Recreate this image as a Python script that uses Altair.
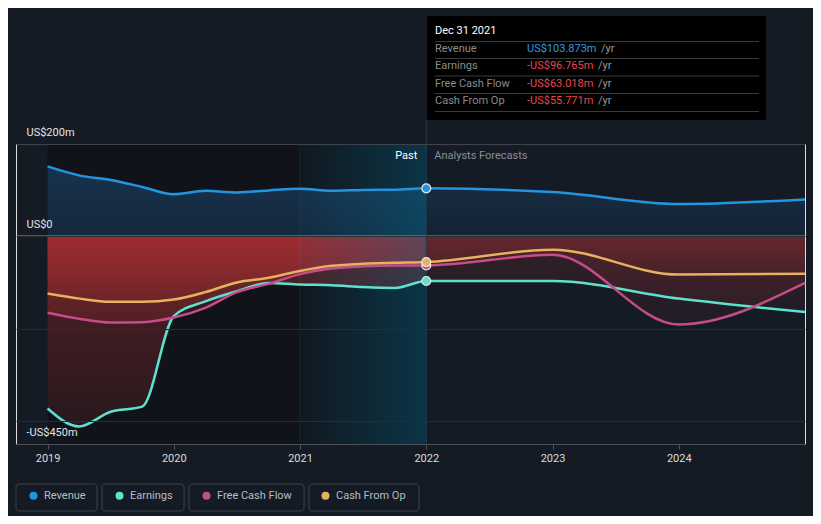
import altair as alt
import pandas as pd

# ---------------- data (US$ m, decimal years) ----------------
past_t = [2019.0, 2019.25, 2019.5, 2019.75, 2020.0, 2020.25, 2020.5, 2020.75,
          2021.0, 2021.25, 2021.5, 2021.75, 2022.0]
fore_t = [2022.0, 2023.0, 2024.0, 2025.0]

revenue_past = [151.5, 132, 122, 107, 91, 98.5, 95, 99.5, 103, 98.5, 100.5, 101, 103.873]
revenue_fore = [103.873, 96, 70, 80]
earnings_past = [-373, -412, -380, -369, -173, -141, -119, -101, -104.5, -106, -110, -112, -96.765]
earnings_fore = [-96.765, -97, -135, -164]
fcf_past = [-165.5, -178.5, -187, -186, -176, -155, -121, -103, -82, -70, -65, -63, -63.018]
fcf_fore = [-63.018, -40, -191, -101]
cfo_past = [-124, -135, -142, -142, -137, -121, -100, -90, -75, -64, -59.5, -57.5, -55.771]
cfo_fore = [-55.771, -29, -83, -81]

series_names = ["Revenue", "Earnings", "Free Cash Flow", "Cash From Op"]
series_colors = ["#2394df", "#5fe1cf", "#c64b8a", "#e8b15e"]

x_domain = [2018.75, 2025]
x_ticks = [2019, 2020, 2021, 2022, 2023, 2024]
y_domain = [-450, 200]
y_ticks = [-450, -400, -200, 0, 200]
y_label_text = {200: "US$200m", 0: "US$0", -450: "-US$450m"}

tooltip_date = "Dec 31 2021"
past_label = "Past"
fore_label = "Analysts Forecasts"

FONT = "Roboto"
BG = "#151b24"

# ---------------- tables ----------------
past_vals = [revenue_past, earnings_past, fcf_past, cfo_past]
fore_vals = [revenue_fore, earnings_fore, fcf_fore, cfo_fore]

rows = []
for name, pv, fv in zip(series_names, past_vals, fore_vals):
    for t, v in zip(past_t, pv):
        rows.append({"t": t, "value": v, "series": name, "phase": "past", "zero": 0})
    for t, v in zip(fore_t, fv):
        rows.append({"t": t, "value": v, "series": name, "phase": "fore", "zero": 0})
df = pd.DataFrame(rows)
line_df = df[~((df.phase == "fore") & (df.t == fore_t[0]))].copy()

last_df = df[(df.phase == "past") & (df.t == past_t[-1])].copy()

label_expr = " : ".join(
    [f"datum.value == {k} ? '{v}'" for k, v in y_label_text.items()]) + " : ''"

xs = alt.Scale(domain=x_domain, nice=False, zero=False)
ys = alt.Scale(domain=y_domain, nice=False, zero=False)
x_axis = alt.Axis(values=x_ticks, format="d", title=None, grid=False,
                  domainColor="#4b5059", tickColor="#4b5059", tickSize=5,
                  labelPadding=3, labelColor="#dcdcdc", labelFontSize=11,
                  labelFont=FONT, zindex=1)
y_axis = alt.Axis(values=y_ticks, title=None, grid=True, domain=False, ticks=False,
                  labelExpr=label_expr, labelAlign="left", labelPadding=-10,
                  labelBaseline="middle", labelOffset=-12, labelColor="#e4e4e4",
                  labelFontSize=11, labelFont=FONT,
                  gridColor={"condition": {"test": "datum.value === 200 || datum.value === -450",
                                           "value": "#3f444c"},
                             "value": "#272d36"},
                  zindex=1)


def X(field):
    return alt.X(field, type="quantitative", scale=xs, axis=x_axis)


def Y(field):
    return alt.Y(field, type="quantitative", scale=ys, axis=y_axis)


def vgrad(c0, c1):
    return alt.Gradient(gradient="linear", x1=0, x2=0, y1=0, y2=1,
                        stops=[alt.GradientStop(color=c0, offset=0),
                               alt.GradientStop(color=c1, offset=1)])


# dark past zone and teal last-year zone
zone_df = pd.DataFrame({"x": [past_t[0]], "x2": [past_t[-1]]})
dark_zone = alt.Chart(zone_df).mark_rect(color="#10141a").encode(
    x=X("x"), x2="x2:Q", y=alt.value(0), y2=alt.value(300))

teal_df = pd.DataFrame({"x": [past_t[-1] - 1], "x2": [past_t[-1]]})
teal_zone = alt.Chart(teal_df).mark_rect(
    color=alt.Gradient(gradient="linear", x1=0, x2=1, y1=0, y2=0,
                       stops=[alt.GradientStop(color="rgba(10,110,150,0.05)", offset=0),
                              alt.GradientStop(color="rgba(0,112,150,0.36)", offset=1)])
).encode(x=X("x"), x2="x2:Q", y=alt.value(0), y2=alt.value(300))
teal_edge = alt.Chart(teal_df).mark_rule(color="rgba(90,150,180,0.12)", strokeWidth=1).encode(
    x=X("x"), y=alt.value(0), y2=alt.value(300))

rev = df[df.series == "Revenue"]
neg = df[df.series != "Revenue"]


def area_layer(data, c0, c1, by_series=False):
    enc = dict(x=X("t"), y=Y("value"), y2=alt.Y2("zero"))
    if by_series:
        enc["detail"] = "series:N"
    return alt.Chart(data).mark_area(interpolate="monotone", color=vgrad(c0, c1)).encode(**enc)


rev_past = area_layer(rev[rev.phase == "past"], "#18334f", "#14283b")
rev_fore = area_layer(rev[rev.phase == "fore"], "#172b40", "#152335")
neg_past = area_layer(neg[neg.phase == "past"], "rgba(200,52,56,0.38)", "rgba(200,52,56,0.13)", True)
neg_fore = area_layer(neg[neg.phase == "fore"], "rgba(200,52,56,0.18)", "rgba(200,52,56,0.06)", True)

zero_df = pd.DataFrame({"v": [0]})
zero_rule = alt.Chart(zero_df).mark_rule(color="rgba(255,255,255,0.5)", strokeWidth=1.5).encode(
    y=Y("v"))

now_df = pd.DataFrame({"t": [past_t[-1]]})
now_rule = alt.Chart(now_df).mark_rule(color="#1f3d4c", strokeWidth=1).encode(
    x=X("t"), y=alt.value(-24), y2=alt.value(300))

past_txt = alt.Chart(now_df).mark_text(
    text=past_label, align="right", baseline="middle", dx=-9, font=FONT,
    fontSize=11, color="#ffffff").encode(x=X("t"), y=alt.value(12))
fore_txt = alt.Chart(now_df).mark_text(
    text=fore_label, align="left", baseline="middle", dx=8, font=FONT,
    fontSize=11, color="#8a8f98").encode(x=X("t"), y=alt.value(12))

color_scale = alt.Scale(domain=series_names, range=series_colors)
legend = alt.Legend(orient="none", legendX=12, legendY=346,
                    direction="horizontal", title=None,
                    symbolType="circle", symbolSize=64,
                    symbolStrokeWidth=0, labelFont=FONT,
                    labelFontSize=11, labelColor="#b8bcc3",
                    labelOffset=5, columnPadding=28, padding=0)

lines = alt.Chart(line_df).mark_line(interpolate="monotone", strokeWidth=2.5).encode(
    x=X("t"), y=Y("value"),
    color=alt.Color("series:N", scale=color_scale, legend=legend),
    detail="series:N")

points = alt.Chart(last_df).mark_circle(size=80, opacity=1, stroke="#e8e8e8",
                                        strokeWidth=1.2).encode(
    x=X("t"), y=Y("value"),
    color=alt.Color("series:N", scale=color_scale, legend=legend))

# legend boxes
legend_boxes = []
for bx0, bx1 in [(0, 81), (86, 168), (173, 288), (293, 403)]:
    legend_boxes.append(alt.Chart(zone_df).mark_rect(
        fillOpacity=0, stroke="#3c414a", strokeWidth=1, cornerRadius=3).encode(
        x=alt.value(bx0), x2=alt.value(bx1), y=alt.value(340), y2=alt.value(367)))

# tooltip box
tip = [alt.Chart(zone_df).mark_rect(color="#000000").encode(
    x=alt.value(411), x2=alt.value(750), y=alt.value(-128), y2=alt.value(-24))]
tip.append(alt.Chart(zone_df).mark_text(
    text=tooltip_date, align="left", baseline="middle", font=FONT, fontSize=11,
    color="#ffffff").encode(x=alt.value(419), y=alt.value(-113)))
for sy in [-102.5, -85.5, -68, -50.5, -32.5]:
    tip.append(alt.Chart(zone_df).mark_rule(color="#3a3a3a", strokeWidth=1).encode(
        x=alt.value(419), x2=alt.value(743), y=alt.value(sy)))
row_y = [-95, -77.7, -60.2, -42.7]
for i, name in enumerate(series_names):
    v = last_df[last_df.series == name]["value"].iloc[0]
    txt = ("-" if v < 0 else "") + f"US${abs(v):.3f}m"
    col = "#2d9be3" if v >= 0 else "#e8474c"
    tip.append(alt.Chart(zone_df).mark_text(
        text=name, align="left", baseline="middle", font=FONT, fontSize=11,
        color="#8b8b8b").encode(x=alt.value(419), y=alt.value(row_y[i])))
    tip.append(alt.Chart(zone_df).mark_text(
        text=txt, align="left", baseline="middle", font=FONT, fontSize=11,
        color=col).encode(x=alt.value(511), y=alt.value(row_y[i])))
    tip.append(alt.Chart(zone_df).mark_text(
        text="/yr", align="left", baseline="middle", font=FONT, fontSize=11,
        color="#9a9a9a").encode(x=alt.value(585 if v >= 0 else 582), y=alt.value(row_y[i])))

chart = alt.layer(
    dark_zone, rev_past, rev_fore, neg_past, neg_fore, teal_zone, teal_edge,
    zero_rule, now_rule, lines, points, past_txt, fore_txt, *legend_boxes, *tip
).properties(
    width=789, height=300,
    autosize=alt.AutoSizeParams(type="none"),
    padding={"left": 8, "top": 136, "right": 8, "bottom": 72},
    background=BG,
).configure_view(strokeWidth=0).configure(font=FONT)

chart.save("out.html", embed_options={"renderer": "svg", "actions": False})
